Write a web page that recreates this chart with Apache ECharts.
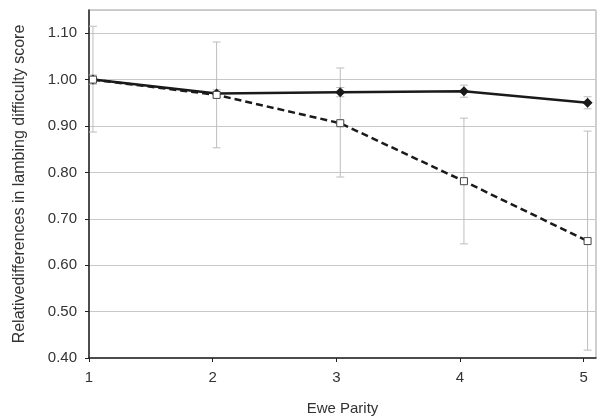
<!DOCTYPE html>
<html>
<head>
<meta charset="utf-8">
<script src="https://cdn.jsdelivr.net/npm/echarts@6/dist/echarts.min.js"></script>
<style>
  html, body { margin: 0; padding: 0; background: #fff; }
  #chart { width: 598px; height: 417px; }
</style>
</head>
<body>
<div id="chart"></div>
<script>
// data
const parity = [1, 2, 3, 4, 5];
const solidVals = [1.00, 0.970, 0.973, 0.975, 0.950];
const solidLow = [0.990, 0.962, 0.963, 0.962, 0.937];
const solidHigh = [1.010, 0.978, 0.983, 0.988, 0.963];
const dashedVals = [1.00, 0.967, 0.906, 0.781, 0.652];
const dashedLow = [0.887, 0.853, 0.790, 0.646, 0.417];
const dashedHigh = [1.115, 1.081, 1.025, 0.917, 0.889];
const yTicks = ['0.40', '0.50', '0.60', '0.70', '0.80', '0.90', '1.00', '1.10'];

const chart = echarts.init(document.getElementById('chart'));

function errBars(low, high) {
    return parity.map((x, i) => [x, low[i], high[i]]);
}

function renderErr(params, api) {
    const x = api.value(0);
    const lo = api.coord([x, api.value(1)]);
    const hi = api.coord([x, api.value(2)]);
    const cap = 4;
    const style = { stroke: '#bdbdbd', lineWidth: 1 };
    return {
        type: 'group',
        children: [
            { type: 'line', shape: { x1: lo[0], y1: lo[1], x2: hi[0], y2: hi[1] }, style: style },
            { type: 'line', shape: { x1: lo[0] - cap, y1: lo[1], x2: lo[0] + cap, y2: lo[1] }, style: style },
            { type: 'line', shape: { x1: hi[0] - cap, y1: hi[1], x2: hi[0] + cap, y2: hi[1] }, style: style }
        ]
    };
}

const font = 'Liberation Sans, Arial, sans-serif';

chart.setOption({
    animation: false,
    grid: {
        left: 89, top: 10, right: 2, bottom: 59,
        outerBoundsMode: 'none',
        show: true, borderColor: '#a0a0a0', borderWidth: 1
    },
    xAxis: [
        {
            type: 'value',
            min: 1,
            max: 5.1,
            interval: 1,
            name: 'Ewe Parity',
            nameLocation: 'middle',
            nameGap: 43,
            nameTextStyle: { color: '#333', fontSize: 15, fontFamily: font },
            axisLine: { lineStyle: { color: '#222', width: 1.5 } },
            axisTick: { length: 4, lineStyle: { color: '#222' } },
            axisLabel: {
                color: '#333', fontSize: 15, fontFamily: font, margin: 12,
                showMaxLabel: false,
                formatter: v => (Number.isInteger(v) ? String(v) : '')
            },
            splitLine: { show: false }
        },
        {
            // points sit slightly right of the ticks in the original figure
            type: 'value',
            min: 0.968,
            max: 5.068,
            show: false
        }
    ],
    yAxis: {
        type: 'value',
        min: 0.4,
        max: 1.15,
        interval: 0.1,
        name: 'Relativedifferences in lambing difficulty score',
        nameLocation: 'middle',
        nameGap: 61,
        nameTextStyle: { color: '#333', fontSize: 16, fontFamily: font },
        axisLine: { show: true, lineStyle: { color: '#222', width: 1.5 } },
        axisTick: { show: true, length: 4, inside: false, lineStyle: { color: '#222' } },
        axisLabel: {
            color: '#333', fontSize: 15, fontFamily: font, margin: 12,
            showMaxLabel: false,
            formatter: v => {
                const s = v.toFixed(2);
                return yTicks.includes(s) ? s : '';
            }
        },
        splitLine: { lineStyle: { color: '#c8c8c8', width: 1 } }
    },
    series: [
        {
            type: 'custom',
            xAxisIndex: 1,
            renderItem: renderErr,
            data: errBars(dashedLow, dashedHigh),
            encode: { x: 0, y: [1, 2] },
            z: 1
        },
        {
            type: 'custom',
            xAxisIndex: 1,
            renderItem: renderErr,
            data: errBars(solidLow, solidHigh),
            encode: { x: 0, y: [1, 2] },
            z: 1
        },
        {
            type: 'line',
            xAxisIndex: 1,
            data: parity.map((x, i) => [x, solidVals[i]]),
            symbol: 'diamond',
            symbolSize: 10,
            lineStyle: { color: '#1a1a1a', width: 2.5 },
            itemStyle: { color: '#1a1a1a' },
            z: 3
        },
        {
            type: 'line',
            xAxisIndex: 1,
            data: parity.map((x, i) => [x, dashedVals[i]]),
            symbol: 'rect',
            symbolSize: 7,
            lineStyle: { color: '#1a1a1a', width: 2.5, type: [7, 4] },
            itemStyle: { color: '#fff', borderColor: '#444', borderWidth: 1 },
            z: 4
        }
    ]
});
</script>
</body>
</html>
